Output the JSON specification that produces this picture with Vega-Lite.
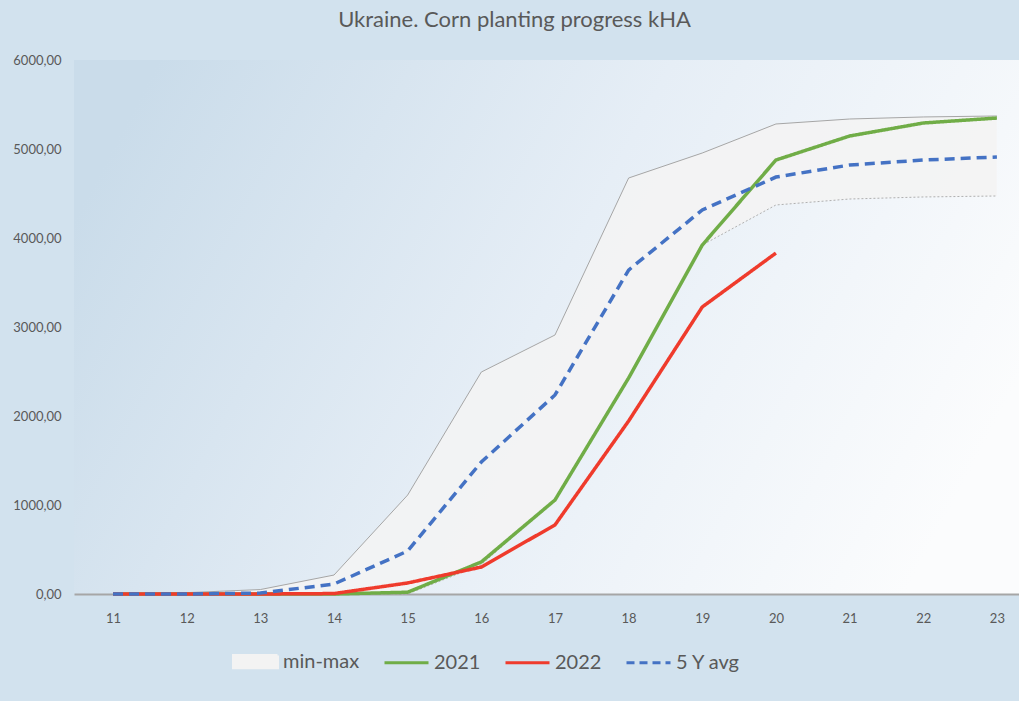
{
  "$schema": "https://vega.github.io/schema/vega-lite/v6.json",
  "width": 945,
  "height": 534,
  "autosize": {"type": "none"},
  "padding": {"left": 74, "top": 60, "right": 0, "bottom": 107},
  "background": "#d2e2ee",
  "config": {
    "view": {"stroke": null, "fill": {"gradient": "linear", "x1": 0, "y1": 0.3, "x2": 1, "y2": 0.6, "stops": [{"offset": 0, "color": "#cadcea"}, {"offset": 0.5, "color": "#e6eef6"}, {"offset": 1, "color": "#fbfcfd"}]}},
    "font": "Lato"
  },
  "title": {
    "text": "Ukraine. Corn planting progress kHA",
    "fontSize": 22,
    "font": "Lato",
    "fontWeight": "normal",
    "color": "#595959",
    "anchor": "middle",
    "dx": -32,
    "offset": 22
  },
  "datasets": {
    "band": [
      {"week": 11, "min": 0, "max": 0, "series": "min-max"},
      {"week": 12, "min": 0, "max": 15, "series": "min-max"},
      {"week": 13, "min": 0, "max": 50, "series": "min-max"},
      {"week": 14, "min": 0, "max": 213, "series": "min-max"},
      {"week": 15, "min": 0, "max": 1112, "series": "min-max"},
      {"week": 16, "min": 330, "max": 2494, "series": "min-max"},
      {"week": 17, "min": 1056, "max": 2910, "series": "min-max"},
      {"week": 18, "min": 2427, "max": 4674, "series": "min-max"},
      {"week": 19, "min": 3921, "max": 4955, "series": "min-max"},
      {"week": 20, "min": 4371, "max": 5281, "series": "min-max"},
      {"week": 21, "min": 4438, "max": 5337, "series": "min-max"},
      {"week": 22, "min": 4461, "max": 5360, "series": "min-max"},
      {"week": 23, "min": 4472, "max": 5371, "series": "min-max"}
    ],
    "lines": [
      {"week": 11, "series": "2021", "value": 0},
      {"week": 12, "series": "2021", "value": 0},
      {"week": 13, "series": "2021", "value": 0},
      {"week": 14, "series": "2021", "value": 0},
      {"week": 15, "series": "2021", "value": 20},
      {"week": 16, "series": "2021", "value": 360},
      {"week": 17, "series": "2021", "value": 1056},
      {"week": 18, "series": "2021", "value": 2427},
      {"week": 19, "series": "2021", "value": 3921},
      {"week": 20, "series": "2021", "value": 4876},
      {"week": 21, "series": "2021", "value": 5146},
      {"week": 22, "series": "2021", "value": 5292},
      {"week": 23, "series": "2021", "value": 5348},
      {"week": 11, "series": "2022", "value": 0},
      {"week": 12, "series": "2022", "value": 0},
      {"week": 13, "series": "2022", "value": 0},
      {"week": 14, "series": "2022", "value": 5},
      {"week": 15, "series": "2022", "value": 124},
      {"week": 16, "series": "2022", "value": 303},
      {"week": 17, "series": "2022", "value": 776},
      {"week": 18, "series": "2022", "value": 1944},
      {"week": 19, "series": "2022", "value": 3225},
      {"week": 20, "series": "2022", "value": 3831},
      {"week": 11, "series": "5 Y avg", "value": 0},
      {"week": 12, "series": "5 Y avg", "value": 0},
      {"week": 13, "series": "5 Y avg", "value": 10},
      {"week": 14, "series": "5 Y avg", "value": 112},
      {"week": 15, "series": "5 Y avg", "value": 483},
      {"week": 16, "series": "5 Y avg", "value": 1483},
      {"week": 17, "series": "5 Y avg", "value": 2236},
      {"week": 18, "series": "5 Y avg", "value": 3640},
      {"week": 19, "series": "5 Y avg", "value": 4315},
      {"week": 20, "series": "5 Y avg", "value": 4685},
      {"week": 21, "series": "5 Y avg", "value": 4820},
      {"week": 22, "series": "5 Y avg", "value": 4876},
      {"week": 23, "series": "5 Y avg", "value": 4910}
    ]
  },
  "encoding": {
    "x": {
      "field": "week",
      "type": "quantitative",
      "scale": {"domain": [10.47, 23.3], "nice": false, "zero": false},
      "axis": {
        "title": null,
        "values": [11, 12, 13, 14, 15, 16, 17, 18, 19, 20, 21, 22, 23],
        "format": "d",
        "grid": false,
        "ticks": false,
        "labelPadding": 18,
        "labelFontSize": 13,
        "labelColor": "#595959",
        "domainColor": "#a6a6a6",
        "domainWidth": 2
      }
    }
  },
  "layer": [
    {
      "data": {"name": "band"},
      "mark": {"type": "area", "fill": "#f3f3f3", "fillOpacity": 0.92},
      "encoding": {
        "y": {
          "field": "max",
          "type": "quantitative",
          "scale": {"domain": [0, 6000], "nice": false},
          "axis": {
            "title": null,
            "values": [0, 1000, 2000, 3000, 4000, 5000, 6000],
            "labelExpr": "replace(format(datum.value, '.2f'), '.', ',')",
            "grid": false,
            "ticks": false,
            "domain": false,
            "labelPadding": 13,
            "labelFontSize": 13,
            "labelColor": "#595959"
          }
        },
        "y2": {"field": "min"},
        "color": {
          "field": "series",
          "type": "nominal",
          "scale": {"domain": ["min-max", "2021", "2022", "5 Y avg"], "range": ["#f3f3f3", "#70ad47", "#ef3b2c", "#4472c4"]},
          "legend": {
            "title": null,
            "orient": "none",
            "direction": "horizontal",
            "columns": 4,
            "legendX": 158,
            "legendY": 578,
            "labelFontSize": 20,
            "labelColor": "#595959",
            "labelFont": "Lato",
            "labelOffset": 4,
            "columnPadding": 18,
            "symbolSize": 1936,
            "symbolType": "stroke",
            "symbolStrokeWidth": 3,
            "encode": {
              "symbols": {
                "update": {
                  "shape": {"signal": "datum.value === 'min-max' ? 'M-1,-0.28H1V0.28H-1Z' : 'stroke'"},
                  "fill": {"signal": "datum.value === 'min-max' ? '#f6f6f6' : 'transparent'"},
                  "stroke": {"signal": "datum.value === 'min-max' ? '#c4c4c4' : scale('color', datum.value)"},
                  "strokeDash": {"signal": "datum.value === '5 Y avg' ? [8, 5] : [1, 0]"},
                  "opacity": {"value": 1}
                }
              }
            }
          }
        }
      }
    },
    {
      "data": {"name": "band"},
      "mark": {"type": "line", "stroke": "#a6a6a6", "strokeWidth": 1},
      "encoding": {"y": {"field": "max", "type": "quantitative"}}
    },
    {
      "data": {"name": "band"},
      "mark": {"type": "line", "stroke": "#b0b0b0", "strokeWidth": 1, "strokeDash": [2, 2]},
      "encoding": {"y": {"field": "min", "type": "quantitative"}}
    },
    {
      "data": {"name": "lines"},
      "mark": {"type": "line", "strokeWidth": 3.5, "strokeCap": "butt"},
      "encoding": {
        "y": {"field": "value", "type": "quantitative"},
        "color": {"field": "series", "type": "nominal"},
        "strokeDash": {
          "field": "series",
          "type": "nominal",
          "scale": {"domain": ["2021", "2022", "5 Y avg"], "range": [[1, 0], [1, 0], [10, 6]]},
          "legend": null
        }
      }
    }
  ]
}
